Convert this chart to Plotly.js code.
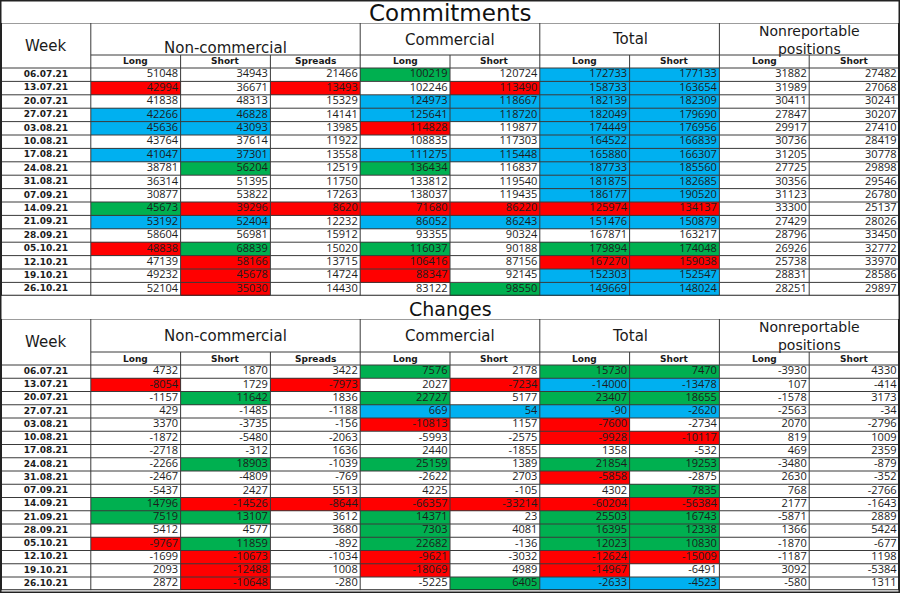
<!DOCTYPE html>
<html>
<head>
<meta charset="utf-8">
<script src="https://cdn.plot.ly/plotly-3.0.1.min.js"></script>
<style>html,body{margin:0;padding:0;background:#fff;}#chart{width:900px;height:593px;}</style>
</head>
<body>
<div id="chart"></div>
<script>
// ---------- DATA ----------
const weeks = ['06.07.21','13.07.21','20.07.21','27.07.21','03.08.21','10.08.21','17.08.21','24.08.21','31.08.21','07.09.21','14.09.21','21.09.21','28.09.21','05.10.21','12.10.21','19.10.21','26.10.21'];
const groupLabels = ['Week','Non-commercial','Commercial','Total','Nonreportable<br>positions'];
const subLabels = ['Long','Short','Spreads','Long','Short','Long','Short','Long','Short'];

// Commitments
const ncLong    = [51048,42994,41838,42266,45636,43764,41047,38781,36314,30877,45673,53192,58604,48838,47139,49232,52104];
const ncShort   = [34943,36671,48313,46828,43093,37614,37301,56204,51395,53822,39296,52404,56981,68839,58166,45678,35030];
const ncSpreads = [21466,13493,15329,14141,13985,11922,13558,12519,11750,17263,8620,12232,15912,15020,13715,14724,14430];
const comLong   = [100219,102246,124973,125641,114828,108835,111275,136434,133812,138037,71680,86052,93355,116037,106416,88347,83122];
const comShort  = [120724,113490,118667,118720,119877,117303,115448,116837,119540,119435,86220,86243,90324,90188,87156,92145,98550];
const totLong   = [172733,158733,182139,182049,174449,164522,165880,187733,181875,186177,125974,151476,167871,179894,167270,152303,149669];
const totShort  = [177133,163654,182309,179690,176956,166839,166307,185560,182685,190520,134137,150879,163217,174048,159038,152547,148024];
const nrLong    = [31882,31989,30411,27847,29917,30736,31205,27725,30356,31123,33300,27429,28796,26926,25738,28831,28251];
const nrShort   = [27482,27068,30241,30207,27410,28419,30778,29898,29546,26780,25137,28026,33450,32772,33970,28586,29897];

// Changes
const chNcLong    = [4732,-8054,-1157,429,3370,-1872,-2718,-2266,-2467,-5437,14796,7519,5412,-9767,-1699,2093,2872];
const chNcShort   = [1870,1729,11642,-1485,-3735,-5480,-312,18903,-4809,2427,-14526,13107,4577,11859,-10673,-12488,-10648];
const chNcSpreads = [3422,-7973,1836,-1188,-156,-2063,1636,-1039,-769,5513,-8644,3612,3680,-892,-1034,1008,-280];
const chComLong   = [7576,2027,22727,669,-10813,-5993,2440,25159,-2622,4225,-66357,14371,7303,22682,-9621,-18069,-5225];
const chComShort  = [2178,-7234,5177,54,1157,-2575,-1855,1389,2703,-105,-33214,23,4081,-136,-3032,4989,6405];
const chTotLong   = [15730,-14000,23407,-90,-7600,-9928,1358,21854,-5858,4302,-60204,25503,16395,12023,-12624,-14967,-2633];
const chTotShort  = [7470,-13478,18655,-2620,-2734,-10117,-532,19253,-2875,7835,-56384,16743,12338,10830,-15009,-6491,-4523];
const chNrLong    = [-3930,107,-1578,-2563,2070,819,469,-3480,2630,768,2177,-5871,1366,-1870,-1187,3092,-580];
const chNrShort   = [4330,-414,3173,-34,-2796,1009,2359,-879,-352,-2766,-1643,2889,5424,-677,1198,-5384,1311];

// Cell highlight flags per column (w = none, r = red, g = green, b = blue)
const commitFlags = ['wrwbbwbwwwgbwrwww','wwwbbwbgwwrbwgrrr','wrwwwwwwwwrwwwwww','gwbbrwbgwwrbwgrrw','wrbbwwbwwwrbwwwwg','bbbbbbbbbbrbwgrbb','bbbbbbbbbbrbwgrbb','wwwwwwwwwwwwwwwww','wwwwwwwwwwwwwwwww'];
const changeFlags = ['wrwwwwwwwwggwrwww','wwgwwwwgwwrgwgrrr','wrwwwwwwwwrwwwwww','gwgbrwwgwwrgggrrw','wrwbwwwwwwrwwwwwg','gbgbrrwgrwrgggrrb','gbgbwrwgwgrgggrwb','wwwwwwwwwwwwwwwww','wwwwwwwwwwwwwwwww'];

// ---------- LAYOUT / STYLE ----------
const W = 900, H = 593, colPx = 89.8;
const lineC = '#3a3a3a';
const flagCode = {w:0, r:1, g:2, b:3};
const cscale = [[0,'#ffffff'],[0.1667,'#ffffff'],[0.1667,'#FF0000'],[0.5,'#FF0000'],[0.5,'#00B050'],[0.8333,'#00B050'],[0.8333,'#00B0F0'],[1,'#00B0F0']];
const numFont = {family:'Open Sans, Liberation Sans, sans-serif', size:11, color:'#1c1c1c'};
const dateFont = {family:'DejaVu Sans', size:9, color:'#1c1c1c', weight:'bold'};

const tables = [
  {title:'Commitments', titleSize:23, titlePx:13, ax:'y', axName:'yaxis', groupTop:23, bodyStart:68, rowH:13.4,
   cols:[ncLong,ncShort,ncSpreads,comLong,comShort,totLong,totShort,nrLong,nrShort], flags:commitFlags,
   gy:[46,48,40,39,40]},
  {title:'Changes', titleSize:19, titlePx:309, ax:'y2', axName:'yaxis2', groupTop:319, bodyStart:365, rowH:13.25,
   cols:[chNcLong,chNcShort,chNcSpreads,chComLong,chComShort,chTotLong,chTotShort,chNrLong,chNrShort], flags:changeFlags,
   gy:[342,336,336,336,336]}
];
const groupX = [0.5, 2.5, 5, 7, 9];
const groupSize = [15, 15, 15, 15, 14];

const traces = [], shapes = [], annotations = [];
const layout = {
  width:W, height:H, margin:{l:0,r:0,t:0,b:0}, paper_bgcolor:'#fff', plot_bgcolor:'#fff',
  showlegend:false, hovermode:false,
  xaxis:{range:[-1/colPx,(W-1)/colPx], domain:[0,1], visible:false, fixedrange:true}
};
const xmin = -1/colPx, xmax = (W-1)/colPx;

tables.forEach(t => {
  const yv = px => (px - t.bodyStart) / t.rowH;
  const gTop = yv(t.groupTop), subTop = yv(t.bodyStart - 13);
  const bottomPx = t.bodyStart + 17 * t.rowH;
  layout[t.axName] = {range:[17, gTop], domain:[1 - bottomPx / H, 1 - t.groupTop / H], visible:false, fixedrange:true, anchor:'x'};

  // cell fills
  const z = weeks.map((w, r) => [0].concat(t.flags.map(f => flagCode[f[r]])));
  traces.push({type:'heatmap', x:[0,1,2,3,4,5,6,7,8,9,10], y:weeks.map((w,i)=>i).concat([17]), z:z,
    colorscale:cscale, zmin:0, zmax:3, showscale:false, hoverinfo:'skip', xaxis:'x', yaxis:t.ax});

  // dates
  traces.push({type:'scatter', mode:'text', x:weeks.map(()=>0.5), y:weeks.map((w,i)=>i+0.5), text:weeks,
    textposition:'middle center', textfont:dateFont, xaxis:'x', yaxis:t.ax, hoverinfo:'skip', cliponaxis:false});
  // numbers
  t.cols.forEach((vals, c) => {
    traces.push({type:'scatter', mode:'text', x:vals.map(()=>c + 2 - 2.5/colPx), y:vals.map((v,i)=>i+0.5),
      text:vals.map(v=>String(v)), textposition:'middle left', textfont:numFont,
      xaxis:'x', yaxis:t.ax, hoverinfo:'skip', cliponaxis:false});
  });

  const yref = t.ax;
  const L = (x0,y0,x1,y1,w,c) => shapes.push({type:'line', xref:'x', yref:yref, x0:x0, y0:y0, x1:x1, y1:y1, line:{color:c||lineC, width:w||1}});
  // horizontal lines
  L(xmin, gTop, xmax, gTop, 1);
  L(1, subTop, 10, subTop, 1);
  for (let k = 0; k <= 17; k++) L(0, k, 10, k, k === 17 ? 2 : 1, k === 17 ? '#222' : lineC);
  // vertical lines
  [0,1,4,6,8,10].forEach(x => L(x, gTop, x, 17, (x===0||x===10)?2:1, (x===0||x===10)?'#222':lineC));
  [2,3,5,7,9].forEach(x => L(x, subTop, x, 17, 1));

  // titles
  annotations.push({text:t.title, xref:'paper', yref:'paper', x:0.5, y:1 - t.titlePx / H, xanchor:'center', yanchor:'middle',
    showarrow:false, font:{family:'DejaVu Sans', size:t.titleSize, color:'#111'}});
  // group headers
  groupLabels.forEach((g, i) => {
    annotations.push({text:g, xref:'x', yref:yref, x:groupX[i], y:yv(t.gy[i]), xanchor:'center', yanchor:'middle',
      showarrow:false, font:{family:'DejaVu Sans', size:groupSize[i], color:'#1a1a1a'}});
  });
  // sub headers
  subLabels.forEach((s, i) => {
    annotations.push({text:'<b>'+s+'</b>', xref:'x', yref:yref, x:i + 1.5, y:(subTop)/2, xanchor:'center', yanchor:'middle',
      showarrow:false, font:{family:'DejaVu Sans', size:9, color:'#1a1a1a'}});
  });
});

// outer frame
shapes.push({type:'rect', xref:'paper', yref:'paper', x0:0, y0:0, x1:1, y1:1, line:{color:'#222', width:3}});

layout.shapes = shapes;
layout.annotations = annotations;
Plotly.newPlot('chart', traces, layout, {staticPlot:true, displayModeBar:false});
</script>
</body>
</html>
